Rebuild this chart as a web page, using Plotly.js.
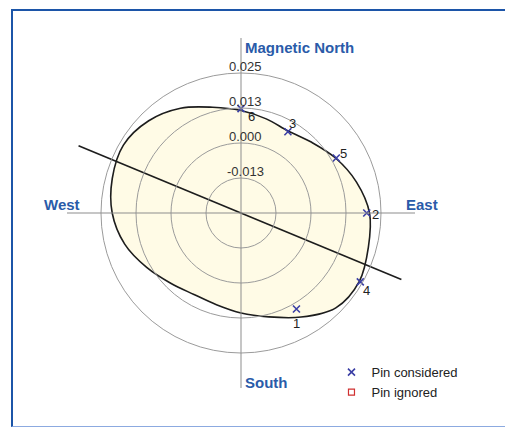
<!DOCTYPE html>
<html><head><meta charset="utf-8">
<script src="https://cdn.plot.ly/plotly-3.0.1.min.js"></script>
<style>
html,body{margin:0;padding:0;background:#fff;}
#wrap{position:relative;width:505px;height:430px;overflow:hidden;}
#chart{position:absolute;left:0;top:0;width:505px;height:430px;}
#frame{position:absolute;left:11px;top:9px;width:620px;height:415px;border-left:2.4px solid #1C55A8;border-top:2.4px solid #1C55A8;border-bottom:1.4px solid #8CAAE0;pointer-events:none;}
</style></head>
<body><div id="wrap"><div id="chart"></div><div id="frame"></div></div>
<script>
// ---- data ----
const ringValues = [-0.0125, 0, 0.0125, 0.025];
const ringLabels = ['-0.013', '0.000', '0.013', '0.025'];
const centerValue = -0.025;            // radial value at the centre of the rose
const directionNames = ['Magnetic North', 'East', 'South', 'West'];
const pinNames = ['1', '2', '3', '4', '5', '6'];
const pinBearings = [150, 90, 30, 120, 60, 0];
const pinValues = [0.0146, 0.0199, 0.0085, 0.0242, 0.0143, 0.0123];
const ignoredBearings = [];
const ignoredValues = [];
const fitBearings = [0, 15, 30, 45, 60, 75, 90, 105, 120, 135, 150, 165,
  180, 195, 210, 225, 240, 255, 270, 285, 300, 315, 330, 345];
const fitValues = [0.0116, 0.0098, 0.0088, 0.0107, 0.0141, 0.0177, 0.0209, 0.0221, 0.0238, 0.0229, 0.0179, 0.0134,
  0.0107, 0.0089, 0.0086, 0.0105, 0.0139, 0.0180, 0.0210, 0.0226, 0.0235, 0.0216, 0.0182, 0.0141];
const axisBearings = [292.5, 112.5];
const axisValues = [0.0378, 0.0370];

// ---- helpers: bearing (clockwise from north) + radial value -> plane ----
const dist = v => v - centerValue;
const toX = (b, v) => dist(v) * Math.sin(b * Math.PI / 180);
const toY = (b, v) => dist(v) * Math.cos(b * Math.PI / 180);

const fitX = fitBearings.map((b, i) => toX(b, fitValues[i]));
const fitY = fitBearings.map((b, i) => toY(b, fitValues[i]));
fitX.push(fitX[0]); fitY.push(fitY[0]);

const pinX = pinBearings.map((b, i) => toX(b, pinValues[i]));
const pinY = pinBearings.map((b, i) => toY(b, pinValues[i]));
const ignoredX = ignoredBearings.map((b, i) => toX(b, ignoredValues[i]));
const ignoredY = ignoredBearings.map((b, i) => toY(b, ignoredValues[i]));

const FONT = 'Liberation Sans, Arial, Helvetica, sans-serif';
const BLUE = '#2A5BA9';
const PIN_BLUE = '#3B3FA5';

const traces = [
  {
    x: fitX, y: fitY, mode: 'lines', fill: 'toself', fillcolor: '#FFFBE6',
    line: {color: '#1d1d1d', width: 1.6, shape: 'spline', smoothing: 1},
    showlegend: false, hoverinfo: 'skip'
  },
  {
    x: [toX(axisBearings[0], axisValues[0]), toX(0, centerValue), toX(axisBearings[1], axisValues[1])],
    y: [toY(axisBearings[0], axisValues[0]), toY(0, centerValue), toY(axisBearings[1], axisValues[1])],
    mode: 'lines', line: {color: '#1d1d1d', width: 1.6}, showlegend: false, hoverinfo: 'skip'
  },
  {
    x: pinX, y: pinY, mode: 'markers', name: 'Pin considered',
    marker: {symbol: 'x-thin', size: 7, color: PIN_BLUE, line: {width: 1.6, color: PIN_BLUE}}
  },
  {
    x: ignoredX.length ? ignoredX : [null],
    y: ignoredY.length ? ignoredY : [null],
    mode: 'markers', name: 'Pin ignored', showlegend: true,
    marker: {symbol: 'square-open', size: 6, color: '#D03030', line: {width: 1.2, color: '#D03030'}}
  }
];

const shapes = ringValues.map(v => ({
  type: 'circle', xref: 'x', yref: 'y', layer: 'above',
  x0: -dist(v), x1: dist(v), y0: -dist(v), y1: dist(v),
  line: {color: '#9b9b9b', width: 1}
}));
shapes.push({type: 'line', xref: 'x', yref: 'paper', x0: 0, x1: 0, y0: 0, y1: 1, layer: 'above',
  line: {color: '#8d8d8d', width: 1}});
shapes.push({type: 'line', xref: 'paper', yref: 'y', x0: 0, x1: 1, y0: 0, y1: 0, layer: 'above',
  line: {color: '#8d8d8d', width: 1}});

const annotations = ringValues.map((v, i) => ({
  x: 0, y: dist(v), xref: 'x', yref: 'y', text: ringLabels[i], showarrow: false,
  xanchor: 'center', yanchor: 'bottom', xshift: 4, yshift: -2, borderpad: 0,
  font: {family: FONT, size: 13, color: '#333'}
}));

// pin number labels, offset (px) from each marker as in the reference
const pinLabelShift = {'1': [0, -14], '2': [9, -1], '3': [5, 8], '4': [6, -9], '5': [7, 4], '6': [10, -8]};
pinNames.forEach((n, i) => {
  annotations.push({x: pinX[i], y: pinY[i], xref: 'x', yref: 'y', text: n, showarrow: false,
    xanchor: 'center', yanchor: 'middle', xshift: pinLabelShift[n][0], yshift: pinLabelShift[n][1],
    borderpad: 0, font: {family: FONT, size: 13, color: '#222'}});
});

const dirFont = {family: FONT, size: 15, color: BLUE, weight: 'bold'};
annotations.push({x: 0, xref: 'x', y: 1, yref: 'paper', xanchor: 'left', yanchor: 'top', xshift: 2, yshift: 1,
  text: '<b>' + directionNames[0] + '</b>', showarrow: false, font: dirFont});
annotations.push({x: 0.968, xref: 'paper', y: 0, yref: 'y', xanchor: 'left', yanchor: 'bottom', yshift: -2,
  text: '<b>' + directionNames[1] + '</b>', showarrow: false, font: dirFont});
annotations.push({x: 0, xref: 'x', y: 0, yref: 'paper', xanchor: 'left', yanchor: 'bottom', xshift: 2, yshift: -5,
  text: '<b>' + directionNames[2] + '</b>', showarrow: false, font: dirFont});
annotations.push({x: -0.071, xref: 'paper', y: 0, yref: 'y', xanchor: 'left', yanchor: 'bottom', yshift: -2,
  text: '<b>' + directionNames[3] + '</b>', showarrow: false, font: dirFont});

const layout = {
  width: 505, height: 430,
  margin: {l: 67, r: 90, t: 38, b: 42},
  paper_bgcolor: '#ffffff', plot_bgcolor: 'rgba(0,0,0,0)',
  xaxis: {range: [-0.06214, 0.06214], visible: false, fixedrange: true},
  yaxis: {range: [-0.0625, 0.0625], visible: false, fixedrange: true},
  showlegend: true,
  legend: {x: 0.76, y: 0.088, xanchor: 'left', yanchor: 'top', bgcolor: 'rgba(0,0,0,0)',
    font: {family: FONT, size: 13, color: '#222'}, tracegroupgap: 0, itemwidth: 30},
  shapes: shapes,
  annotations: annotations,
  font: {family: FONT}
};

Plotly.newPlot('chart', traces, layout, {displayModeBar: false, staticPlot: true});
</script>
</body></html>
